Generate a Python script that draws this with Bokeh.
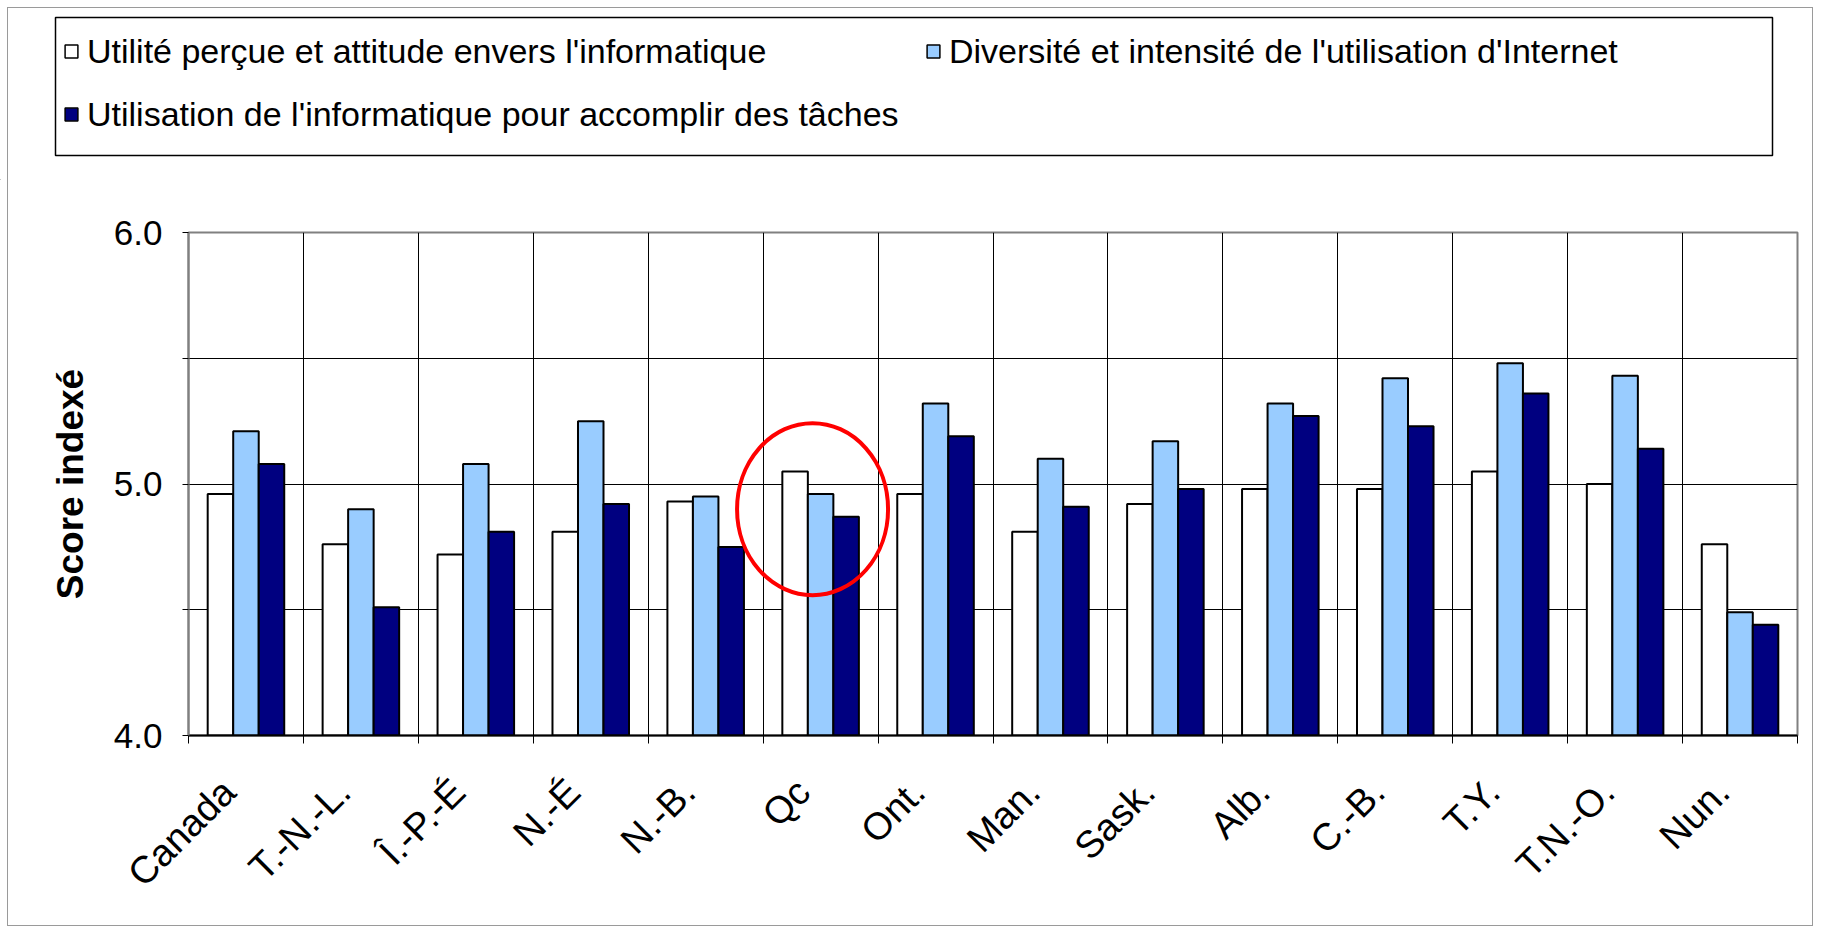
from bokeh.plotting import figure
from bokeh.layouts import column, row
from bokeh.models import FixedTicker, Legend, LegendItem, ColumnDataSource
from bokeh.embed import file_html
from bokeh.resources import INLINE
from math import pi

categories = ["Canada", "T.-N.-L.", "Î.-P.-É", "N.-É", "N.-B.", "Qc", "Ont.",
              "Man.", "Sask.", "Alb.", "C.-B.", "T.Y.", "T.N.-O.", "Nun."]
utilite = [4.96, 4.76, 4.72, 4.81, 4.93, 5.05, 4.96, 4.81, 4.92, 4.98, 4.98, 5.05, 5.00, 4.76]
diversite = [5.21, 4.90, 5.08, 5.25, 4.95, 4.96, 5.32, 5.10, 5.17, 5.32, 5.42, 5.48, 5.43, 4.49]
taches = [5.08, 4.51, 4.81, 4.92, 4.75, 4.87, 5.19, 4.91, 4.98, 5.27, 5.23, 5.36, 5.14, 4.44]
series_names = ["Utilité perçue et attitude envers l'informatique",
                "Diversité et intensité de l'utilisation d'Internet",
                "Utilisation de l'informatique pour accomplir des tâches"]
y_ticks = [4.0, 4.5, 5.0, 5.5, 6.0]
y_labels = ["4.0", "", "5.0", "", "6.0"]
highlight = "Qc"

colors = ["#FFFFFF", "#99CCFF", "#000080"]
FONT = "Liberation Sans"

W = 1820
H = 933
TOP_H = 180          # height of the legend strip
FRAME_TOP = 232      # page y of the plot frame top
FRAME_H = 503
n = len(categories)
centers = [i + 0.5 for i in range(n)]
bounds = [float(i) for i in range(n + 1)]
label_pos = [c - 0.15 for c in centers]

# ---------- main chart ----------
p = figure(width=W, height=H - TOP_H, x_range=(0, n), y_range=(4.0, 6.0),
           output_backend="svg", toolbar_location=None,
           min_border_left=188, min_border_right=W - 1797,
           min_border_top=FRAME_TOP - TOP_H,
           min_border_bottom=H - FRAME_TOP - FRAME_H)
p.background_fill_color = "white"
p.border_fill_color = "white"
p.border_fill_alpha = 0.0
p.outline_line_color = "#808080"
p.outline_line_width = 2

bw = 0.222
offsets = [-bw, 0.0, bw]
for vals, off, col in zip([utilite, diversite, taches], offsets, colors):
    src = ColumnDataSource(dict(x=[c + off for c in centers], top=vals))
    p.vbar(x="x", top="top", bottom=0, width=bw, source=src,
           fill_color=col, line_color="black", line_width=2)

# red highlight ring around the Québec group
hi = categories.index(highlight)
hi_mean = (utilite[hi] + diversite[hi] + taches[hi]) / 3
p.ellipse(x=[centers[hi] - 0.07], y=[hi_mean - 0.06], width=151, height=172,
          width_units="screen", height_units="screen",
          fill_color=None, line_color="#FF0000", line_width=4)

p.xgrid.ticker = FixedTicker(ticks=bounds)
p.ygrid.ticker = FixedTicker(ticks=y_ticks)
for g in (p.xgrid[0], p.ygrid[0]):
    g.grid_line_color = "#000000"
    g.grid_line_width = 1

xa = p.xaxis[0]
xa.ticker = FixedTicker(ticks=label_pos, minor_ticks=bounds)
xa.major_label_overrides = {c: name for c, name in zip(label_pos, categories)}
xa.major_tick_out = 0
xa.major_tick_in = 0
xa.minor_tick_out = 8
xa.minor_tick_in = 0
xa.minor_tick_line_color = "black"
xa.axis_line_color = "black"
xa.axis_line_width = 2
xa.major_label_orientation = pi / 4
xa.major_label_standoff = 42
xa.major_label_text_font = FONT
xa.major_label_text_font_size = "38px"
xa.major_label_text_color = "black"

ya = p.yaxis[0]
ya.ticker = FixedTicker(ticks=y_ticks)
ya.major_label_overrides = {t: l for t, l in zip(y_ticks, y_labels)}
ya.minor_tick_out = 0
ya.minor_tick_in = 0
ya.major_tick_out = 6
ya.major_tick_in = 0
ya.major_tick_line_color = "black"
ya.axis_line_color = "#808080"
ya.axis_line_width = 2
ya.major_label_standoff = 20
ya.major_label_text_font = FONT
ya.major_label_text_font_size = "35px"
ya.major_label_text_color = "black"
ya.axis_label = "Score indexé"
ya.axis_label_text_font = FONT
ya.axis_label_text_font_style = "bold"
ya.axis_label_text_font_size = "37px"
ya.axis_label_standoff = 20
ya.axis_label_text_color = "black"

# ---------- legend strip ----------
lf = figure(width=W, height=TOP_H, x_range=(0, W), y_range=(0, TOP_H),
            output_backend="svg", toolbar_location=None,
            min_border_left=0, min_border_right=0, min_border_top=0, min_border_bottom=0)
lf.axis.visible = False
lf.grid.visible = False
lf.outline_line_color = None
lf.background_fill_alpha = 0.0
lf.border_fill_alpha = 0.0

# legend frame box
lf.quad(left=[55], right=[1772], top=[TOP_H - 17], bottom=[TOP_H - 155],
        fill_color="white", line_color="black", line_width=1.5)

items = []
for name, col in zip(series_names, colors):
    r = lf.vbar(x=[-50.0], top=[-50.0], bottom=[-60.0], width=1,
                fill_color=col, line_color="black", line_width=1.5)
    items.append(LegendItem(label=name, renderers=[r]))

legend = Legend(items=items, orientation="horizontal", ncols=2,
                location=(63, TOP_H - 134),
                label_text_font=FONT, label_text_font_size="34px", label_text_color="black",
                glyph_width=16, glyph_height=16, label_standoff=8,
                label_width=815, label_height=40, spacing=23, padding=10, margin=0,
                border_line_color=None, background_fill_alpha=0.0)
lf.add_layout(legend, "center")

layout = column(row(lf), p, spacing=0,
                styles={"outline": "1px solid #9a9a9a", "outline-offset": "-8px",
                        "background-color": "white"})
open("out.html", "w").write(file_html(layout, INLINE))
